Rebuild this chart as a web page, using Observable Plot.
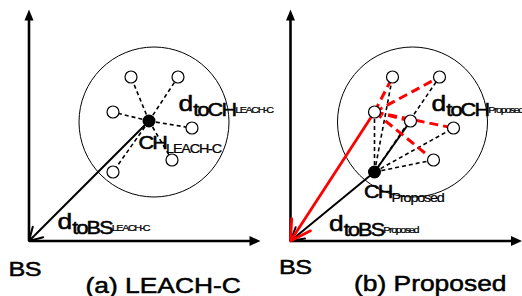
<!DOCTYPE html>
<html><head><meta charset="utf-8">
<script src="https://cdn.jsdelivr.net/npm/d3@7"></script>
<script src="https://cdn.jsdelivr.net/npm/@observablehq/plot@0.6"></script>
<style>body{margin:0;background:#fff}svg{display:block}</style>
</head><body><div id="chart"></div>
<script>
// ---- data (local coordinates: origin at BS, y upward) ----
const panels = ["a", "b"];
const panelTitles = ["(a) LEACH-C", "(b) Proposed"];
const schemeNames = ["LEACH-C", "Proposed"];
const nodeIds = ["A", "B", "C", "D", "E", "F", "G"];
const nodeX = [102, 149, 84, 120, 163, 143, 84];
const nodeY = [164, 164, 129, 120, 113, 81, 69];
const clusterHeads = ["D", "G"];
const clusterCenterX = [125, 122];
const clusterCenterY = [119, 119];
const axisExtent = 231.5;
// links
const dashedMembersA = ["A", "B", "C", "E", "F", "G"];   // from D (panel a)
const dashedMembersB = ["A", "B", "C", "E", "F"];        // from G (panel b)
const solidMembersB = ["D"];                             // from G (panel b)
const relayNode = "C";                                   // red node (panel b)
const relayTargets = ["A", "B", "D", "E", "F"];
// labels
const labelPanel = ["a", "a", "a", "b", "b", "b"];
const labelKind = ["d", "d", "ch", "d", "d", "ch"];
const labelMain = ["d", "d", "CH", "d", "d", "CH"];
const labelSub = ["toBS", "toCH", "", "toBS", "toCH", ""];
const labelX = [28.5, 149.5, 109.5, 38.5, 141, 73.5];
const labelY = [12.5, 130.5, 92.5, 10.5, 130.5, 43.5];
const bsX = [-20.5, -11.5], bsY = [-34.5, -32.5];
const titleX = [56.5, 63.5], titleY = [-51.5, -49.5];

// ---- layout / style constants ----
const panelShift = {a: 0, b: 261.5};
const SX = 1.2; // horizontal stretch of the lettering
const FONT = "Liberation Sans";
const LS = {22: 0, 21: -0.5, 18: -1.5, 12: -1, 9: -1.2};

const node = Object.fromEntries(nodeIds.map((id, i) => [id, {x: nodeX[i], y: nodeY[i]}]));
const X = d => d.x + panelShift[d.panel];
const X1 = d => d.x1 + panelShift[d.panel];
const X2 = d => d.x2 + panelShift[d.panel];
const edge = (panel, from, to) => ({panel, x1: node[from].x, y1: node[from].y, x2: node[to].x, y2: node[to].y});

const dashed = [
  ...dashedMembersA.map(t => edge("a", clusterHeads[0], t)),
  ...dashedMembersB.map(t => edge("b", clusterHeads[1], t))
];
const solid = solidMembersB.map(t => edge("b", clusterHeads[1], t));
const red = relayTargets.map(t => edge("b", relayNode, t));
const toBS = panels.map((p, i) => ({panel: p, x1: node[clusterHeads[i]].x, y1: node[clusterHeads[i]].y, x2: 0, y2: 0}));
const redToBS = [{panel: "b", x1: node[relayNode].x, y1: node[relayNode].y, x2: 0, y2: 0}];
const nodes = panels.flatMap((p, i) => nodeIds.filter(id => id !== clusterHeads[i]).map(id => ({panel: p, ...node[id]})));
const heads = panels.map((p, i) => ({panel: p, ...node[clusterHeads[i]]}));
const clusters = panels.map((p, i) => ({panel: p, x: clusterCenterX[i], y: clusterCenterY[i]}));
const axesLines = panels.flatMap(p => [
  {panel: p, x1: 0, y1: 0, x2: axisExtent - 9, y2: 0},
  {panel: p, x1: 0, y1: 0, x2: 0, y2: axisExtent - 9}
]);
const tipsUp = panels.map(p => ({panel: p, x: 0, y: axisExtent}));
const tipsRight = panels.map(p => ({panel: p, x: axisExtent, y: 0}));

// label parts
const ctx = document.createElement("canvas").getContext("2d");
const width = (t, size) => { ctx.font = `${size}px "${FONT}"`; return (ctx.measureText(t).width + LS[size] * t.length) * SX; };
const parts = [];
labelMain.forEach((m, i) => {
  const panel = labelPanel[i];
  const tag = schemeNames[panels.indexOf(panel)];
  const spec = labelKind[i] === "d"
    ? [{text: m, size: 22, dy: 0}, {text: labelSub[i], size: 18, dy: 5}, {text: tag, size: 9, dy: 2}]
    : [{text: m, size: 18, dy: 0}, {text: tag, size: 12, dy: 4}];
  let cx = labelX[i];
  for (const s of spec) {
    parts.push({panel, text: s.text, size: s.size, x: cx, y: labelY[i] - s.dy});
    cx += width(s.text, s.size);
  }
});
panels.forEach((p, i) => {
  parts.push({panel: p, text: "BS", size: 21, x: bsX[i], y: bsY[i]});
  parts.push({panel: p, text: panelTitles[i], size: 22, x: titleX[i], y: titleY[i]});
});
const sizes = [...new Set(parts.map(d => d.size))];

const upSym = {draw(c) { c.moveTo(0, 0); c.lineTo(-4.5, 11); c.lineTo(4.5, 11); c.closePath(); }};
const rightSym = {draw(c) { c.moveTo(0, 0); c.lineTo(-11, -5); c.lineTo(-11, 5); c.closePath(); }};

const svg = Plot.plot({
  width: 522, height: 296, margin: 0,
  x: {domain: [-28.5, 493.5], axis: null},
  y: {domain: [-55.5, 240.5], axis: null},
  style: {background: "white", fontFamily: FONT},
  marks: [
    Plot.dot(clusters, {x: X, y: "y", r: 75, fill: "none", stroke: "black", strokeWidth: 1}),
    Plot.link(axesLines, {x1: X1, y1: "y1", x2: X2, y2: "y2", stroke: "black", strokeWidth: 2.6}),
    Plot.dot(tipsUp, {x: X, y: "y", symbol: upSym, fill: "black", stroke: null}),
    Plot.dot(tipsRight, {x: X, y: "y", symbol: rightSym, fill: "black", stroke: null}),
    Plot.link(dashed, {x1: X1, y1: "y1", x2: X2, y2: "y2", stroke: "black", strokeWidth: 1.6, strokeDasharray: "4,3"}),
    Plot.link(solid, {x1: X1, y1: "y1", x2: X2, y2: "y2", stroke: "black", strokeWidth: 2}),
    Plot.link(red, {x1: X1, y1: "y1", x2: X2, y2: "y2", stroke: "#ff0000", strokeWidth: 3, strokeDasharray: "9,5"}),
    Plot.arrow(toBS, {x1: X1, y1: "y1", x2: X2, y2: "y2", stroke: "black", strokeWidth: 2, headLength: 11}),
    Plot.arrow(redToBS, {x1: X1, y1: "y1", x2: X2, y2: "y2", stroke: "#ff0000", strokeWidth: 2.8, headLength: 12}),
    Plot.dot(nodes, {x: X, y: "y", r: 6, fill: "white", stroke: "black", strokeWidth: 1.2}),
    Plot.dot(heads, {x: X, y: "y", r: 6.5, fill: "black", stroke: null}),
    ...sizes.map(s => Plot.text(parts.filter(d => d.size === s), {
      x: X, y: "y", text: "text", fontSize: s, textAnchor: "start", lineAnchor: "bottom",
      fill: "black", stroke: "black", strokeWidth: s >= 18 ? 0.5 : 0.25, fontFamily: FONT
    }))
  ]
});

// condensed-letter look: letter spacing + horizontal stretch
for (const g of svg.querySelectorAll('g[aria-label="text"]')) {
  const fs = +g.getAttribute("font-size");
  if (LS[fs] != null) g.setAttribute("letter-spacing", LS[fs]);
}
for (const t of svg.querySelectorAll("text")) {
  const tr = t.getAttribute("transform") || "";
  const x = parseFloat(t.getAttribute("x") || "0") || 0;
  t.removeAttribute("x");
  t.setAttribute("transform", `${tr} translate(${x},0) scale(${SX},1)`);
}
document.getElementById("chart").append(svg);
</script></body></html>
